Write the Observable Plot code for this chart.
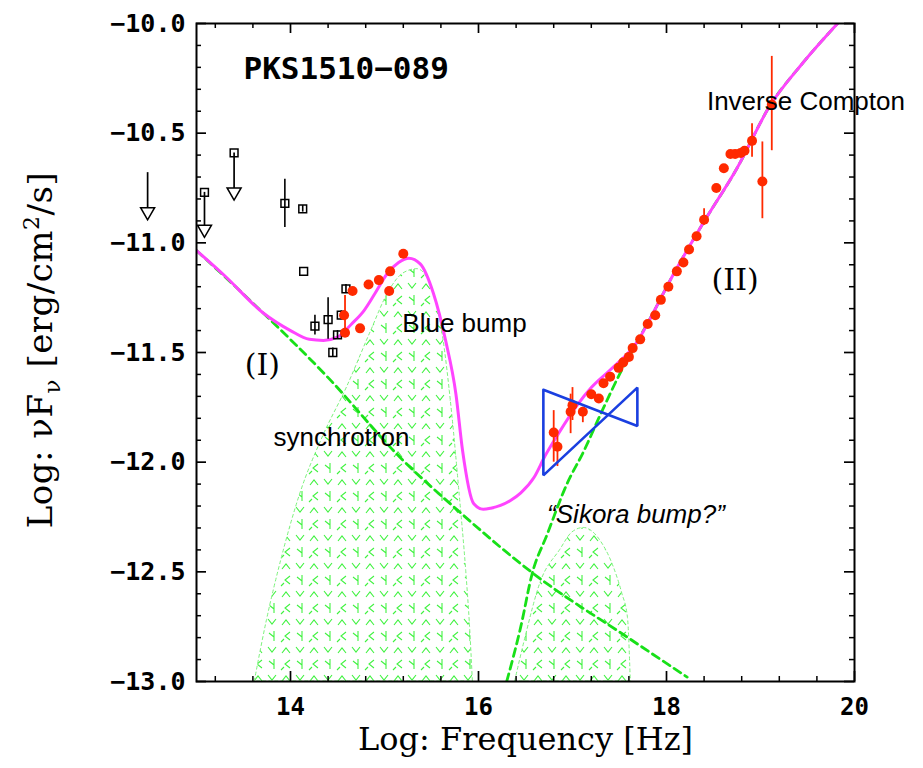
<!DOCTYPE html>
<html><head><meta charset="utf-8">
<script src="https://cdn.jsdelivr.net/npm/d3@7"></script>
<script src="https://cdn.jsdelivr.net/npm/@observablehq/plot@0.6"></script>
<style>
body{margin:0;background:#fff;}
#wrap{position:relative;width:923px;height:768px;overflow:hidden;background:#fff;}
.bt{position:absolute;left:14px;top:6px;width:862px;height:0;border-top:1px solid #888;}
.br{position:absolute;left:876px;top:6px;width:0;height:762px;border-left:1px solid #444;}
</style></head><body><div id="wrap"><div class="bt"></div><div class="br"></div></div>
<script>
// ---- total model (magenta) ----
const totalX = [13.0,13.3,13.71,14.0,14.2,14.35,14.5,14.65,14.78,14.9,15.03,15.15,15.26,15.38,15.52,15.65,15.76,15.83,15.95,16.05,16.13,16.34,16.45,16.59,16.71,16.85,17.05,17.2,17.4,17.69,17.87,18.04,18.39,18.75,19.1,19.45,19.82];
const totalY = [-11.035,-11.15,-11.32,-11.40,-11.44,-11.445,-11.43,-11.37,-11.31,-11.23,-11.14,-11.09,-11.07,-11.096,-11.23,-11.445,-11.69,-11.946,-12.19,-12.215,-12.21,-12.175,-12.14,-12.07,-11.97,-11.87,-11.74,-11.66,-11.58,-11.45,-11.31,-11.17,-10.91,-10.66,-10.375,-10.18,-10.0];
// ---- synchrotron (green dashed) ----
const syncX = [13.0,13.71,14.39,15.17,15.78,16.59,17.59,18.22];
const syncY = [-11.035,-11.32,-11.61,-11.98,-12.22,-12.51,-12.80,-12.98];
// ---- inverse Compton (green dashed) ----
const icX = [16.30,16.45,16.57,16.73,16.94,17.12,17.30,17.50,17.69,17.87,18.04,18.39,18.75,19.1,19.45,19.82];
const icY = [-13.0,-12.75,-12.51,-12.33,-12.10,-11.95,-11.78,-11.60,-11.45,-11.31,-11.17,-10.91,-10.66,-10.375,-10.18,-10.0];
// ---- blue bump (hatched) ----
const bbX = [13.62,13.75,13.9,14.1,14.35,14.6,14.85,15.05,15.2,15.35,15.5,15.62,15.72,15.8,15.87,15.91,15.94];
const bbY = [-13.0,-12.72,-12.45,-12.15,-11.88,-11.66,-11.41,-11.22,-11.14,-11.12,-11.2,-11.42,-11.78,-12.15,-12.5,-12.75,-13.0];
// ---- Sikora bump (hatched) ----
const skX = [16.39,16.5,16.66,16.87,17.0,17.12,17.3,17.44,17.53,17.59,17.62];
const skY = [-13.0,-12.8,-12.55,-12.40,-12.32,-12.30,-12.36,-12.48,-12.6,-12.71,-13.0];
// ---- red data points ----
const redX  = [14.57,14.58,14.66,14.74,14.83,14.94,15.05,15.06,15.20,
               16.80,16.84,16.98,17.00,17.11,17.20,17.28,17.33,17.40,17.49,17.54,17.60,17.64,17.72,17.80,17.88,17.94,18.02,18.11,18.18,18.24,18.32,18.40,18.53,18.61,18.68,18.73,18.79,18.83,18.91,19.02,19.12];
const redY  = [-11.33,-11.41,-11.22,-11.39,-11.19,-11.17,-11.22,-11.13,-11.05,
               -11.865,-11.93,-11.77,-11.74,-11.77,-11.69,-11.71,-11.64,-11.61,-11.57,-11.545,-11.52,-11.48,-11.44,-11.37,-11.33,-11.26,-11.20,-11.13,-11.09,-11.03,-10.97,-10.895,-10.75,-10.66,-10.595,-10.595,-10.59,-10.58,-10.535,-10.72,-10.37];
const redLo = [null,-11.41,null,null,null,null,null,null,null,
               -12.0,-12.02,-11.87,-11.81,-11.82,null,null,null,null,null,null,null,null,null,null,null,null,null,null,null,null,null,-10.92,null,null,null,null,null,null,-10.61,-10.89,-10.58];
const redHi = [null,-11.24,null,null,null,null,null,null,null,
               -11.765,-11.88,-11.69,-11.66,-11.75,null,null,null,null,null,null,null,null,null,null,null,null,null,null,null,null,null,-10.845,null,null,null,null,null,null,-10.457,-10.54,-10.15];
// ---- black open squares ----
const sqX  = [13.085,13.40,13.94,14.13,14.14,14.26,14.40,14.45,14.50,14.54,14.59];
const sqY  = [-10.77,-10.59,-10.82,-10.845,-11.13,-11.38,-11.35,-11.50,-11.42,-11.33,-11.21];
const sqLo = [null,null,-10.93,-10.86,null,-11.42,-11.44,-11.52,-11.44,-11.35,-11.23];
const sqHi = [null,null,-10.71,-10.83,null,-11.33,-11.25,-11.48,-11.40,-11.31,-11.19];
// ---- upper limits (arrows) ----
const ulX   = [12.48,13.085,13.40];
const ulTop = [-10.68,-10.77,-10.59];
const ulTip = [-10.89,-10.97,-10.80];
// ---- X-ray bow tie ----
const bowX = [16.69,17.69,17.69,16.69,16.69];
const bowY = [-11.67,-11.835,-11.66,-12.06,-11.67];
// ---- ticks ----
const xMajor = [14,16,18,20];
const xMinor = [13.2,13.6,14.4,14.8,15.2,15.6,16.4,16.8,17.2,17.6,18.4,18.8,19.2,19.6];
const xTickLabels = ["14","16","18","20"];
const yMajor = [-10,-10.5,-11,-11.5,-12,-12.5,-13];
const yMinor = [-10.1,-10.2,-10.3,-10.4,-10.6,-10.7,-10.8,-10.9,-11.1,-11.2,-11.3,-11.4,-11.6,-11.7,-11.8,-11.9,-12.1,-12.2,-12.3,-12.4,-12.6,-12.7,-12.8,-12.9];
const yTickLabels = ["\u221210.0","\u221210.5","\u221211.0","\u221211.5","\u221212.0","\u221212.5","\u221213.0"];
// ---- annotations ----
const noteText = ["Blue bump","synchrotron","Inverse Compton"];
const noteX = [15.19,13.82,18.43];
const noteY = [-11.37,-11.89,-10.355];

const zip = (xs, ys) => xs.map((x, i) => ({x, y: ys[i]}));
const red = redX.map((x, i) => ({x, y: redY[i], lo: redLo[i], hi: redHi[i]}));
const sq = sqX.map((x, i) => ({x, y: sqY[i], lo: sqLo[i], hi: sqHi[i]}));
const ul = ulX.map((x, i) => ({x, top: ulTop[i], tip: ulTip[i]}));
const xLab = new Map(xMajor.map((d, i) => [d, xTickLabels[i]]));
const yLab = new Map(yMajor.map((d, i) => [d, yTickLabels[i]]));

const RED = "#ff2a00", MAG = "#ff44ff", GRN = "#18e018", BLUE = "#1a3fe0";
const MONO = "DejaVu Sans Mono", SERIF = "DejaVu Serif", SANS = "Liberation Sans";
const FH = 658, FW = 658;

const defsMark = () => {
  const g = d3.create("svg:g");
  const p = g.append("defs").append("pattern").attr("id", "hatch")
    .attr("patternUnits", "userSpaceOnUse").attr("width", 28).attr("height", 28);
  p.append("path")
    .attr("d", "M2,9 L6,4 L10,9 M16,3 L20,8 L24,3 M10,16 L5,20 L10,24 M17,17 L22,21 M22,15 L22,25 M1,26 L4,23")
    .attr("fill", "none").attr("stroke", "#3ff23f").attr("stroke-width", 1.1);
  return g.node();
};

const yTitleMark = (index, scales, values, dims) => {
  const cy = (dims.marginTop + dims.height - dims.marginBottom) / 2 - 2;
  const t = d3.create("svg:text")
    .attr("transform", `translate(52,${cy}) rotate(-90)`)
    .attr("text-anchor", "middle")
    .attr("font-family", SERIF).attr("font-size", 34).attr("fill", "black")
    .attr("letter-spacing", 0.5);
  t.append("tspan").text("Log: \u03bdF");
  t.append("tspan").attr("dy", 8).attr("font-size", 23).text("\u03bd");
  t.append("tspan").attr("dy", -8).text(" [erg/cm");
  t.append("tspan").attr("dy", -13).attr("font-size", 22).text("2");
  t.append("tspan").attr("dy", 13).text("/s]");
  return t.node();
};

const chart = Plot.plot({
  width: 923, height: 768,
  marginLeft: 196, marginRight: 69, marginTop: 23, marginBottom: 87,
  x: {domain: [13, 20]},
  y: {domain: [-13, -10]},
  style: {background: "white", overflow: "visible"},
  marks: [
    defsMark,
    Plot.areaY(zip(bbX, bbY), {x: "x", y1: -13, y2: "y", fill: "url(#hatch)", stroke: "#7cf27c", strokeWidth: 1, strokeDasharray: "3,3", curve: "monotone-x"}),
    Plot.areaY(zip(skX, skY), {x: "x", y1: -13, y2: "y", fill: "url(#hatch)", stroke: "#7cf27c", strokeWidth: 1, strokeDasharray: "3,3", curve: "monotone-x"}),
    Plot.line(zip(syncX, syncY), {x: "x", y: "y", stroke: GRN, strokeWidth: 2.8, strokeDasharray: "8,5", curve: "monotone-x", clip: true}),
    Plot.line(zip(icX, icY), {x: "x", y: "y", stroke: GRN, strokeWidth: 2.8, strokeDasharray: "8,5", curve: "monotone-x", clip: true}),
    Plot.line(zip(totalX, totalY), {x: "x", y: "y", stroke: MAG, strokeWidth: 3, curve: "monotone-x", clip: true}),
    // upper limits
    Plot.ruleX(ul, {x: "x", y1: "top", y2: "tip", stroke: "black", strokeWidth: 1.7, insetBottom: 9}),
    Plot.dot(ul, {x: "x", y: "tip", symbol: "triangle", rotate: 180, r: 5.2, dy: -7, fill: "white", stroke: "black", strokeWidth: 1.5}),
    // black squares
    Plot.ruleX(sq.filter(d => d.lo != null), {x: "x", y1: "lo", y2: "hi", stroke: "black", strokeWidth: 1.6}),
    Plot.dot(sq, {x: "x", y: "y", symbol: "square", r: 4.4, fill: "white", fillOpacity: 0, stroke: "black", strokeWidth: 1.5}),
    // red points
    Plot.ruleX(red.filter(d => d.lo != null), {x: "x", y1: "lo", y2: "hi", stroke: RED, strokeWidth: 1.8}),
    Plot.dot(red, {x: "x", y: "y", r: 5, fill: RED, stroke: "none"}),
    // bow tie
    Plot.line(zip(bowX, bowY), {x: "x", y: "y", stroke: BLUE, strokeWidth: 2.6, strokeLinejoin: "miter"}),
    // frame and ticks
    Plot.frame({stroke: "black", strokeWidth: 2}),
    Plot.ruleX(xMajor, {x: d => d, insetTop: FH - 10, stroke: "black", strokeWidth: 1.7}),
    Plot.ruleX(xMajor, {x: d => d, insetBottom: FH - 10, stroke: "black", strokeWidth: 1.7}),
    Plot.ruleX(xMinor, {x: d => d, insetTop: FH - 5, stroke: "black", strokeWidth: 1.5}),
    Plot.ruleX(xMinor, {x: d => d, insetBottom: FH - 5, stroke: "black", strokeWidth: 1.5}),
    Plot.ruleY(yMajor, {y: d => d, insetRight: FW - 10, stroke: "black", strokeWidth: 1.7}),
    Plot.ruleY(yMajor, {y: d => d, insetLeft: FW - 10, stroke: "black", strokeWidth: 1.7}),
    Plot.ruleY(yMinor, {y: d => d, insetRight: FW - 5, stroke: "black", strokeWidth: 1.5}),
    Plot.ruleY(yMinor, {y: d => d, insetLeft: FW - 5, stroke: "black", strokeWidth: 1.5}),
    Plot.axisX(xMajor, {tickSize: 0, tickPadding: 16, tickFormat: d => xLab.get(d), fontSize: 24, fontWeight: "bold", fontFamily: MONO, label: null}),
    Plot.axisY(yMajor, {tickSize: 0, tickPadding: 11, tickFormat: d => yLab.get(d), fontSize: 25, fontWeight: "bold", fontFamily: MONO, label: null}),
    // texts
    Plot.text(["PKS1510\u2212089"], {x: 13.5, y: -10.21, text: d => d, textAnchor: "start", fontFamily: MONO, fontWeight: "bold", fontSize: 31}),
    Plot.text(noteText, {x: (d, i) => noteX[i], y: (d, i) => noteY[i], text: d => d, textAnchor: "start", fontFamily: SANS, fontSize: 26}),
    Plot.text(["\u201cSikora bump?\u201d"], {x: 16.73, y: -12.24, text: d => d, textAnchor: "start", fontFamily: SANS, fontStyle: "italic", fontSize: 26}),
    Plot.text(["(I)"], {x: 13.70, y: -11.56, text: d => d, fontFamily: SERIF, fontSize: 30}),
    Plot.text(["(II)"], {x: 18.73, y: -11.17, text: d => d, fontFamily: SERIF, fontSize: 30}),
    Plot.text(["Log: Frequency [Hz]"], {frameAnchor: "bottom", dy: 68, text: d => d, fontFamily: SERIF, fontSize: 32}),
    yTitleMark
  ]
});
chart.style.position = "absolute";
chart.style.left = "0px";
chart.style.top = "0px";
document.getElementById("wrap").appendChild(chart);
</script></body></html>
